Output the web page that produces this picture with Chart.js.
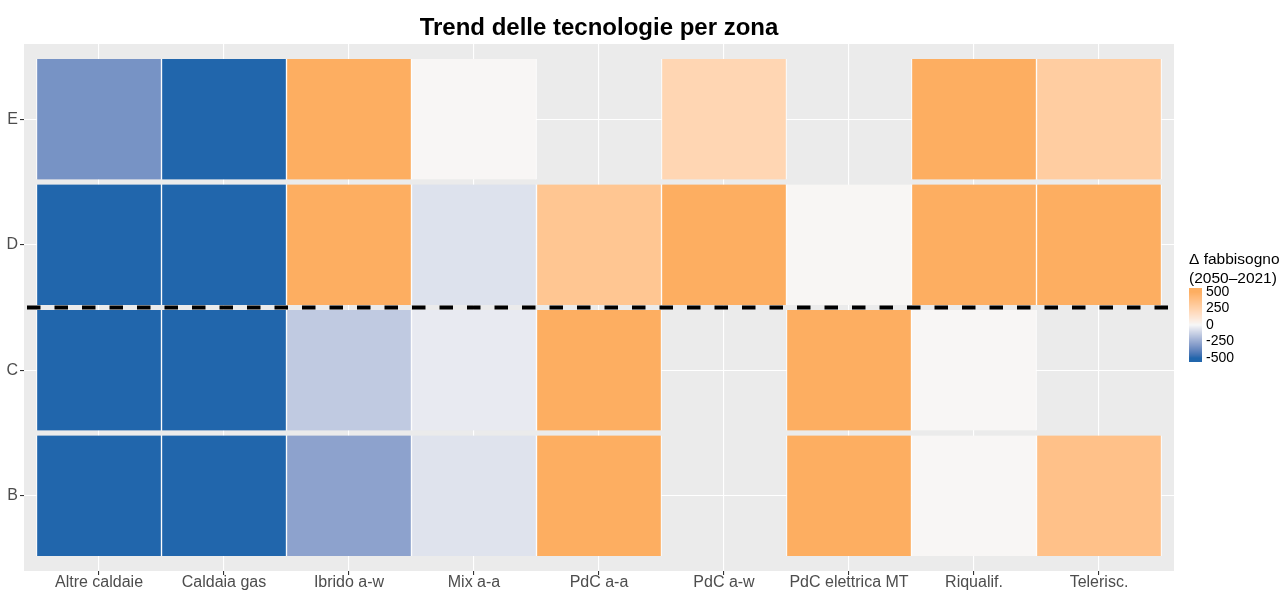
<!DOCTYPE html>
<html>
<head>
<meta charset="utf-8">
<script src="https://cdn.jsdelivr.net/npm/chart.js@4.4.0/dist/chart.umd.min.js"></script>
<style>
    html, body { margin: 0; padding: 0; background: #fff; }
    #wrap { width: 1283px; height: 590px; }
</style>
</head>
<body>
<div id="wrap"><canvas id="heat" width="1283" height="590"></canvas></div>
<script>
const technologies = ['Altre caldaie', 'Caldaia gas', 'Ibrido a-w', 'Mix a-a', 'PdC a-a', 'PdC a-w', 'PdC elettrica MT', 'Riqualif.', 'Telerisc.'];
const zones = ['B', 'C', 'D', 'E'];
// Δ fabbisogno (2050-2021) per zona, null = nessun dato
const zoneB = [-500, -500, -280, -65, 500, null, 500, 8, 365];
const zoneC = [-500, -500, -145, -40, 500, null, 500, 8, null];
const zoneD = [-500, -500, 500, -68, 335, 500, 10, 500, 500];
const zoneE = [-335, -500, 500, 8, null, 225, null, 500, 285];
const legendTicks = [500, 250, 0, -250, -500];
const splitAt = 2.5; // linea tratteggiata tra zona C e D

const LOW = '#2166ac', MID = '#f7f7f7', HIGH = '#fdae61';
const LIMIT = 500;
const FONT = "'Liberation Sans', Arial, sans-serif";

// --- colori: interpolazione in Lab come scale_fill_gradient2 ---
function hexToRgb(h) { return [1, 3, 5].map(i => parseInt(h.substr(i, 2), 16)); }
function toLin(c) { c /= 255; return c <= 0.04045 ? c / 12.92 : Math.pow((c + 0.055) / 1.055, 2.4); }
function fromLin(c) {
    c = c <= 0.0031308 ? 12.92 * c : 1.055 * Math.pow(c, 1 / 2.4) - 0.055;
    return Math.round(Math.max(0, Math.min(1, c)) * 255);
}
function rgbToLab(rgb) {
    const [r, g, b] = rgb.map(toLin);
    const x = (0.4124 * r + 0.3576 * g + 0.1805 * b) / 0.95047;
    const y = 0.2126 * r + 0.7152 * g + 0.0722 * b;
    const z = (0.0193 * r + 0.1192 * g + 0.9505 * b) / 1.08883;
    const f = t => t > 0.008856 ? Math.cbrt(t) : 7.787 * t + 16 / 116;
    const fx = f(x), fy = f(y), fz = f(z);
    return [116 * fy - 16, 500 * (fx - fy), 200 * (fy - fz)];
}
function labToRgb(lab) {
    const fy = (lab[0] + 16) / 116, fx = fy + lab[1] / 500, fz = fy - lab[2] / 200;
    const inv = t => t * t * t > 0.008856 ? t * t * t : (t - 16 / 116) / 7.787;
    const x = inv(fx) * 0.95047, y = inv(fy), z = inv(fz) * 1.08883;
    const r = 3.2406 * x - 1.5372 * y - 0.4986 * z;
    const g = -0.9689 * x + 1.8758 * y + 0.0415 * z;
    const b = 0.0557 * x - 0.2040 * y + 1.0570 * z;
    return [r, g, b].map(fromLin);
}
const labLow = rgbToLab(hexToRgb(LOW)), labMid = rgbToLab(hexToRgb(MID)), labHigh = rgbToLab(hexToRgb(HIGH));

function fillColor(v) {
    v = Math.max(-LIMIT, Math.min(LIMIT, v));
    let a, b, t;
    if (v < 0) { a = labLow; b = labMid; t = (v + LIMIT) / LIMIT; }
    else { a = labMid; b = labHigh; t = v / LIMIT; }
    const lab = a.map((c, i) => c + (b[i] - c) * t);
    const rgb = labToRgb(lab);
    return `rgb(${rgb[0]},${rgb[1]},${rgb[2]})`;
}

// --- dataset: una serie di barre flottanti per zona ---
const rows = [zoneB, zoneC, zoneD, zoneE];
const datasets = rows.map((vals, r) => {
    const pts = [];
    const cols = [];
    vals.forEach((v, c) => {
        if (v === null) return;
        pts.push({x: c + 1, y: [r + 1 - 0.48, r + 1 + 0.48]});
        cols.push(fillColor(v));
    });
    return {
        label: 'Zona ' + zones[r],
        data: pts,
        backgroundColor: cols,
        borderColor: '#ffffff',
        borderWidth: {left: 1, right: 1, top: 0, bottom: 0},
        borderSkipped: false,
        barPercentage: 1,
        categoryPercentage: 1,
        grouped: false
    };
});

const panelPlugin = {
    id: 'panel',
    beforeDraw(chart) {
        const {ctx, chartArea: a} = chart;
        ctx.save();
        ctx.fillStyle = '#ffffff';
        ctx.fillRect(0, 0, chart.width, chart.height);
        ctx.fillStyle = '#ebebeb';
        ctx.fillRect(a.left, a.top, a.right - a.left, a.bottom - a.top);
        ctx.restore();
    },
    afterDatasetsDraw(chart) {
        const {ctx, chartArea: a} = chart;
        const y = chart.scales.y.getPixelForValue(splitAt);
        ctx.save();
        // linea tratteggiata
        ctx.strokeStyle = '#000000';
        ctx.lineWidth = 4;
        ctx.setLineDash([13.5, 14]);
        ctx.lineDashOffset = -3;
        ctx.beginPath();
        ctx.moveTo(a.left, y);
        ctx.lineTo(a.right, y);
        ctx.stroke();
        ctx.setLineDash([]);

        // titolo
        ctx.fillStyle = '#000000';
        ctx.font = 'bold 24px ' + FONT;
        ctx.textAlign = 'center';
        ctx.textBaseline = 'alphabetic';
        ctx.fillText('Trend delle tecnologie per zona', (a.left + a.right) / 2, 35);

        // legenda colorbar
        const lx = 1189;
        ctx.textAlign = 'left';
        ctx.font = '15.5px ' + FONT;
        ctx.fillText('Δ fabbisogno', lx, 264);
        ctx.fillText('(2050–2021)', lx, 283);

        const barTop = 288, barBottom = 362, barW = 13;
        const vTop = 292, vBottom = 358;
        const valToY = v => vTop + (LIMIT - v) / (2 * LIMIT) * (vBottom - vTop);
        for (let py = barTop; py < barBottom; py++) {
            const v = LIMIT - (py + 0.5 - vTop) / (vBottom - vTop) * 2 * LIMIT;
            ctx.fillStyle = fillColor(v);
            ctx.fillRect(lx, py, barW, 1);
        }
        ctx.fillStyle = '#000000';
        ctx.font = '14px ' + FONT;
        ctx.textBaseline = 'middle';
        legendTicks.forEach(v => ctx.fillText(String(v), lx + barW + 4, valToY(v)));
        ctx.restore();
    }
};

const chart = new Chart(document.getElementById('heat').getContext('2d'), {
    type: 'bar',
    data: {datasets: datasets},
    options: {
        responsive: false,
        animation: false,
        layout: {padding: {top: 44, right: 109, left: 0, bottom: 0}},
        plugins: {
            legend: {display: false},
            title: {display: false},
            tooltip: {enabled: false}
        },
        scales: {
            x: {
                type: 'linear',
                min: 0.4,
                max: technologies.length + 0.6,
                offset: false,
                afterBuildTicks: s => { s.ticks = technologies.map((_, i) => ({value: i + 1})); },
                afterFit: s => { s.height = 19; },
                grid: {color: '#ffffff', lineWidth: 1.1, offset: false, tickColor: '#333333', tickLength: 4},
                border: {display: false},
                ticks: {
                    color: '#4d4d4d',
                    font: {family: FONT, size: 16},
                    padding: -2,
                    maxRotation: 0,
                    autoSkip: false,
                    callback: v => technologies[v - 1] || ''
                }
            },
            y: {
                type: 'linear',
                min: 0.4,
                max: zones.length + 0.6,
                afterBuildTicks: s => { s.ticks = zones.map((_, i) => ({value: i + 1})); },
                afterFit: s => { s.width = 24; },
                grid: {color: '#ffffff', lineWidth: 1.1, tickColor: '#333333', tickLength: 4},
                border: {display: false},
                ticks: {
                    color: '#4d4d4d',
                    font: {family: FONT, size: 16},
                    padding: 2,
                    callback: v => zones[v - 1] || ''
                }
            }
        }
    },
    plugins: [panelPlugin]
});
</script>
</body>
</html>
